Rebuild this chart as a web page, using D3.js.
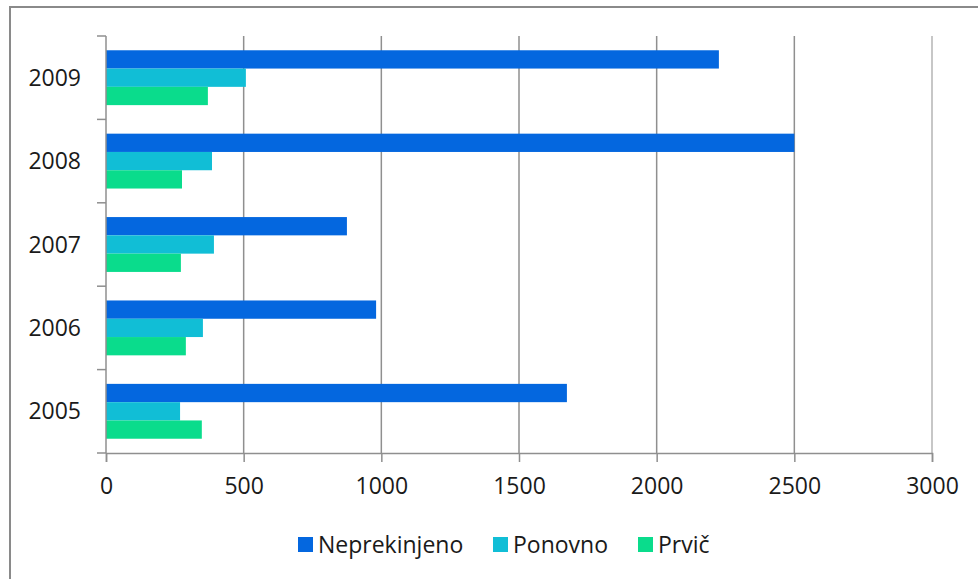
<!DOCTYPE html>
<html>
<head>
<meta charset="utf-8">
<title>bar chart</title>
<script src="https://cdn.jsdelivr.net/npm/d3@7"></script>
<style>
body { margin:0; background:#fff; }
text { font-family: "Open Sans", sans-serif; fill:#1a1a1a; }
</style>
</head>
<body>
<script>
var years = ["2009", "2008", "2007", "2006", "2005"];
var series = ["Neprekinjeno", "Ponovno", "Prvič"];
var neprekinjeno = [2226, 2500, 875, 981, 1674];
var ponovno = [508, 385, 392, 352, 269];
var prvic = [370, 276, 272, 290, 348];
var xTicks = [0, 500, 1000, 1500, 2000, 2500, 3000];
var colors = ["#0467df", "#11bed6", "#0adc8c"];

var values = [neprekinjeno, ponovno, prvic];
var w = 978, h = 579;
var margin = {left:106, top:36, right:46, bottom:126};
var width = w - margin.left - margin.right;
var height = h - margin.top - margin.bottom;

var svg = d3.select("body").append("svg").attr("width", w).attr("height", h);
// outer frame
svg.append("rect").attr("x", 10).attr("y", 7).attr("width", w + 20).attr("height", h + 20)
	.attr("fill", "#fff").attr("stroke", "#8a8a8a").attr("stroke-width", 2);

var g = svg.append("g").attr("transform", "translate(" + margin.left + "," + margin.top + ")");

var x = d3.scaleLinear().domain([0, 3000]).range([0, width]);
var y = d3.scaleBand().domain(years).range([0, height]).padding(0);
var y1 = d3.scaleBand().domain(series).range([0, y.bandwidth()]).paddingInner(0).paddingOuter(0.78);

// gridlines
g.selectAll(".grid").data(xTicks.slice(1)).enter().append("line")
	.attr("x1", function(d){return x(d)}).attr("x2", function(d){return x(d)})
	.attr("y1", 0).attr("y2", height)
	.attr("stroke", function(d){return d == 3000 ? "#b5b5b5" : "#8f8f8f"}).attr("stroke-width", 1.5);

// bars
years.forEach(function(yr, i){
	var grp = g.append("g").attr("transform", "translate(0," + y(yr) + ")");
	series.forEach(function(s, j){
		grp.append("rect")
			.attr("x", 0).attr("y", y1(s))
			.attr("width", x(values[j][i]))
			.attr("height", y1.bandwidth())
			.attr("fill", colors[j]);
	});
});

// x axis
var xaxis = d3.axisBottom(x).tickValues(xTicks).tickSize(9).tickPadding(16).tickFormat(d3.format("d"));
var xg = g.append("g").attr("transform", "translate(0," + height + ")").call(xaxis);
xg.select(".domain").attr("stroke", "#8f8f8f").attr("stroke-width", 1.5);
xg.selectAll(".tick line").attr("stroke", "#8f8f8f").attr("stroke-width", 1.5);
xg.selectAll("text").style("font-size", "23px").attr("fill", "#1a1a1a");

// y axis
g.append("line").attr("x1", 0).attr("x2", 0).attr("y1", 0).attr("y2", height)
	.attr("stroke", "#8f8f8f").attr("stroke-width", 1.5);
var bounds = years.map(function(d){return y(d)}).concat([height]);
g.selectAll(".ytick").data(bounds).enter().append("line")
	.attr("x1", -9).attr("x2", 0)
	.attr("y1", function(d){return d}).attr("y2", function(d){return d})
	.attr("stroke", "#8f8f8f").attr("stroke-width", 1.5);
g.selectAll(".ylab").data(years).enter().append("text")
	.attr("x", -25).attr("y", function(d){return y(d) + y.bandwidth()/2})
	.attr("text-anchor", "end").attr("dy", "0.35em")
	.style("font-size", "23px").text(function(d){return d});

// legend
var legX = [298, 493, 638];
var leg = svg.selectAll(".leg").data(series).enter().append("g")
	.attr("transform", function(d, i){return "translate(" + legX[i] + ",537)"});
leg.append("rect").attr("width", 15).attr("height", 15).attr("fill", function(d, i){return colors[i]});
leg.append("text").attr("x", 20).attr("y", 8).attr("dy", "0.35em")
	.style("font-size", "23px").text(function(d){return d});
</script>
</body>
</html>
